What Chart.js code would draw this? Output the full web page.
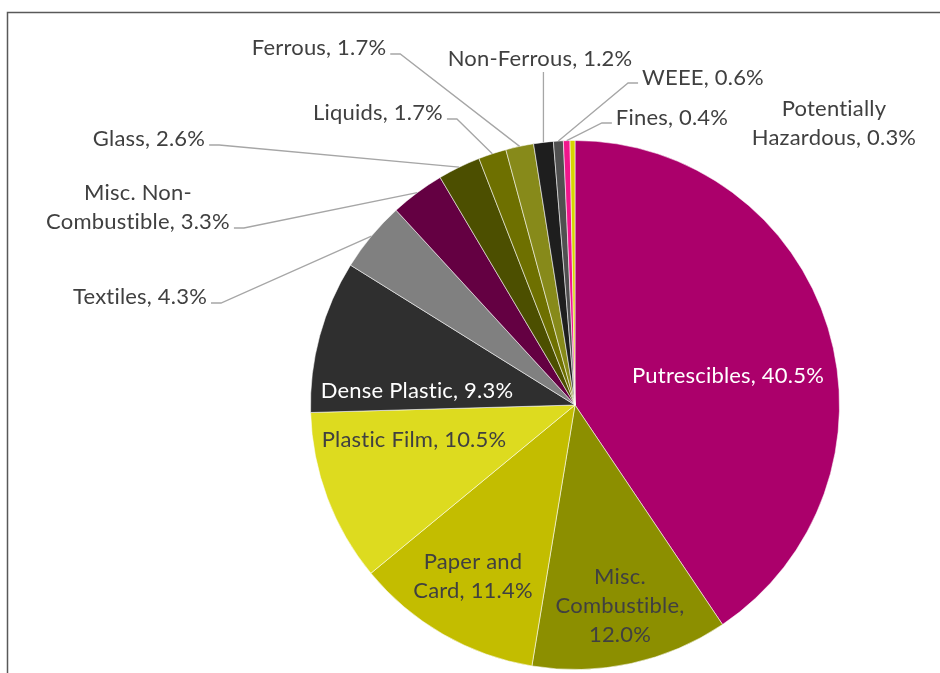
<!DOCTYPE html>
<html>
<head>
<meta charset="utf-8">
<script src="https://cdn.jsdelivr.net/npm/chart.js@4.4.0/dist/chart.umd.min.js"></script>
<style>
  html, body { margin: 0; padding: 0; background: #fff; }
  #wrap { width: 940px; height: 673px; }
</style>
</head>
<body>
<div id="wrap"><canvas id="pieChart" width="940" height="673"></canvas></div>
<script>
// composition, % by weight
const categories = ['Putrescibles', 'Misc. Combustible', 'Paper and Card', 'Plastic Film', 'Dense Plastic',
    'Textiles', 'Misc. Non-Combustible', 'Glass', 'Liquids', 'Ferrous', 'Non-Ferrous', 'WEEE', 'Fines',
    'Potentially Hazardous'];
const shares = [40.5, 12.0, 11.4, 10.5, 9.3, 4.3, 3.3, 2.6, 1.7, 1.7, 1.2, 0.6, 0.4, 0.3];
const sliceColors = ['#AB006B', '#8C8F00', '#C3BD00', '#DDDB1F', '#2F2F2F', '#808080', '#640042',
    '#4C4F00', '#6E7000', '#878A1A', '#1E1E1E', '#505050', '#F0168C', '#D6D600'];

// label placement (text centre), wrapping and leader style
const labelLayout = {
    'Putrescibles': { x: 728, y: 376, color: '#fff' },
    'Misc. Combustible': { x: 620, y: 577, breakAfter: ['Misc.', 'Combustible,'] },
    'Paper and Card': { x: 473, y: 562, breakAfter: ['and'] },
    'Plastic Film': { x: 414, y: 440 },
    'Dense Plastic': { x: 417, y: 391, color: '#fff' },
    'Textiles': { x: 140, y: 297, leader: 'right' },
    'Misc. Non-Combustible': { x: 138, y: 193, breakAfter: ['Non-'], leader: 'right' },
    'Glass': { x: 149, y: 139, leader: 'right' },
    'Liquids': { x: 378, y: 113, leader: 'right' },
    'Ferrous': { x: 319, y: 48, leader: 'right' },
    'Non-Ferrous': { x: 540, y: 59, leader: 'down' },
    'WEEE': { x: 703, y: 78, leader: 'left' },
    'Fines': { x: 672, y: 118, leader: 'left' },
    'Potentially Hazardous': { x: 834, y: 109, breakAfter: ['Potentially'] }
};

const FONT = '22px Lato, "Open Sans", sans-serif';
const LINE_H = 29;

function splitText(text, tokens) {
    const lines = [];
    let rest = text;
    (tokens || []).forEach(tok => {
        const i = rest.indexOf(tok);
        if (i >= 0) {
            lines.push(rest.slice(0, i + tok.length).trim());
            rest = rest.slice(i + tok.length).trim();
        }
    });
    lines.push(rest);
    return lines;
}

const labelPlugin = {
    id: 'pieLabels',
    afterDraw(chart) {
        const ctx = chart.ctx;
        const meta = chart.getDatasetMeta(0);

        // outer frame (left and top edges visible)
        ctx.save();
        ctx.strokeStyle = '#595959';
        ctx.lineWidth = 1.5;
        ctx.beginPath();
        ctx.moveTo(7.5, 673);
        ctx.lineTo(7.5, 12.5);
        ctx.lineTo(940, 12.5);
        ctx.stroke();
        ctx.restore();

        ctx.save();
        ctx.font = FONT;
        ctx.letterSpacing = '0.2px';  // also stops the ti ligature
        ctx.textAlign = 'center';
        ctx.textBaseline = 'middle';

        meta.data.forEach((arc, i) => {
            const name = categories[i];
            const lay = labelLayout[name];
            const text = name + ', ' + shares[i].toFixed(1) + '%';
            const lines = splitText(text, lay.breakAfter);

            // leader line from label to slice edge
            if (lay.leader) {
                const p = arc.getProps(['x', 'y', 'startAngle', 'endAngle', 'outerRadius'], true);
                const mid = (p.startAngle + p.endAngle) / 2;
                const ex = p.x + Math.cos(mid) * p.outerRadius;
                const ey = p.y + Math.sin(mid) * p.outerRadius;
                const lastY = lay.y + (lines.length - 1) * LINE_H;
                const w = ctx.measureText(lines[lines.length - 1]).width;
                ctx.strokeStyle = '#A6A6A6';
                ctx.lineWidth = 1.3;
                ctx.beginPath();
                if (lay.leader === 'right') {
                    const sx = lay.x + w / 2 + 4;
                    ctx.moveTo(sx, lastY + 6);
                    ctx.lineTo(sx + 10, lastY + 6);
                } else if (lay.leader === 'left') {
                    const sx = lay.x - w / 2 - 4;
                    ctx.moveTo(sx, lastY + 5);
                    ctx.lineTo(sx - 10, lastY + 5);
                } else {
                    ctx.moveTo(ex, lastY + 13);
                }
                ctx.lineTo(ex, ey);
                ctx.stroke();
            }

            ctx.fillStyle = lay.color || '#404040';
            lines.forEach((ln, k) => ctx.fillText(ln, lay.x, lay.y + k * LINE_H));
        });
        ctx.restore();
    }
};

const ctx1 = document.getElementById('pieChart').getContext('2d');
new Chart(ctx1, {
    type: 'pie',
    data: {
        labels: categories,
        datasets: [{
            data: shares,
            backgroundColor: sliceColors,
            borderColor: 'rgba(255, 255, 255, 0.55)',
            borderWidth: 1
        }]
    },
    options: {
        responsive: false,
        animation: false,
        layout: { padding: { left: 310, right: 100, top: 140, bottom: 3 } },
        plugins: {
            legend: { display: false },
            tooltip: { enabled: false }
        }
    },
    plugins: [labelPlugin]
});
</script>
</body>
</html>
